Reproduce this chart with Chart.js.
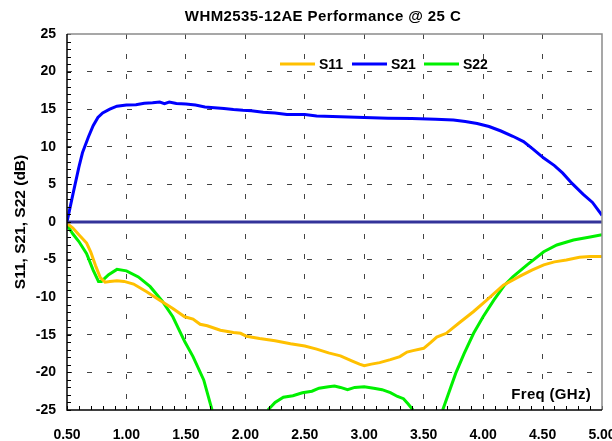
<!DOCTYPE html>
<html><head><meta charset="utf-8">
<script src="https://cdn.jsdelivr.net/npm/chart.js@4.4.1/dist/chart.umd.min.js"></script>
<style>html,body{margin:0;padding:0;background:#fff;} canvas{display:block;}</style>
</head><body>
<canvas id="c" width="612" height="441"></canvas>
<script>
const chartTitle = "WHM2535-12AE Performance @ 25 C";
const xAxisTitle = "Freq (GHz)";
const yAxisTitle = "S11, S21, S22 (dB)";
const seriesNames = ["S11", "S21", "S22"];
const seriesColors = ["#FFC000", "#0000FF", "#00F000"];

const s21Freq = [0.50,0.55,0.60,0.63,0.68,0.72,0.76,0.80,0.86,0.92,1.00,1.08,1.15,1.22,1.28,1.32,1.36,1.42,1.50,1.58,1.66,1.74,1.82,1.90,1.98,2.05,2.15,2.25,2.35,2.50,2.60,2.80,3.00,3.20,3.40,3.60,3.75,3.85,3.95,4.05,4.15,4.25,4.34,4.42,4.51,4.60,4.67,4.75,4.84,4.92,5.00];
const s21Values = [0.0,3.7,7.3,9.2,11.3,12.8,13.9,14.5,15.0,15.4,15.55,15.6,15.8,15.85,15.95,15.75,15.95,15.75,15.7,15.55,15.3,15.2,15.1,14.95,14.85,14.8,14.6,14.5,14.3,14.3,14.1,14.0,13.9,13.8,13.75,13.65,13.55,13.35,13.1,12.7,12.1,11.4,10.7,9.7,8.5,7.5,6.5,5.1,3.7,2.6,0.9];

const s11Freq = [0.50,0.55,0.60,0.665,0.70,0.74,0.78,0.82,0.86,0.92,0.98,1.06,1.17,1.28,1.39,1.49,1.56,1.62,1.68,1.79,1.90,1.96,2.01,2.12,2.25,2.38,2.50,2.60,2.70,2.80,2.90,2.96,3.00,3.06,3.13,3.22,3.30,3.36,3.41,3.50,3.56,3.61,3.69,3.80,3.92,4.03,4.17,4.31,4.41,4.51,4.60,4.70,4.81,4.90,5.00];
const s11Values = [-0.2,-0.8,-1.7,-2.8,-4.0,-5.8,-7.4,-8.0,-7.9,-7.8,-7.9,-8.25,-9.27,-10.4,-11.5,-12.6,-12.9,-13.6,-13.8,-14.4,-14.7,-14.8,-15.2,-15.5,-15.8,-16.2,-16.5,-16.9,-17.4,-17.8,-18.5,-18.9,-19.1,-18.9,-18.7,-18.3,-17.9,-17.3,-17.1,-16.8,-16.0,-15.3,-14.8,-13.4,-11.9,-10.4,-8.4,-7.2,-6.4,-5.7,-5.3,-5.05,-4.7,-4.6,-4.6];

const s22Freq = [0.50,0.55,0.60,0.665,0.72,0.765,0.79,0.85,0.92,1.00,1.10,1.20,1.30,1.39,1.49,1.56,1.65,1.72,1.95,2.19,2.25,2.32,2.40,2.48,2.56,2.62,2.70,2.75,2.80,2.86,2.92,3.00,3.08,3.15,3.22,3.28,3.33,3.37,3.41,3.55,3.66,3.77,3.84,3.92,4.00,4.09,4.18,4.25,4.37,4.51,4.62,4.76,4.90,5.00];
const s22Values = [-0.4,-1.6,-2.6,-4.2,-6.4,-7.9,-7.9,-7.0,-6.3,-6.5,-7.3,-8.6,-10.5,-12.6,-15.9,-17.9,-21.0,-25,null,-25,-24.0,-23.3,-23.1,-22.7,-22.5,-22.1,-21.9,-21.8,-22.0,-22.3,-22.0,-21.9,-22.1,-22.3,-22.7,-23.2,-23.5,-24.2,-25,null,-25,-20.1,-17.5,-14.8,-12.6,-10.4,-8.4,-7.3,-5.7,-3.95,-3.06,-2.4,-2.0,-1.7];

const zeroFreq = [0.50, 5.00];
const zeroValues = [0, 0];

const xTickValues = [0.5,1.0,1.5,2.0,2.5,3.0,3.5,4.0,4.5,5.0];
const yTickValues = [-25,-20,-15,-10,-5,0,5,10,15,20,25];
const xMinorStep = 0.1;
const yMinorStep = 1;

const FONT = "'Liberation Sans', Arial, sans-serif";
const zip = (xs, ys) => xs.map((x, i) => ({x: x, y: ys[i]}));

const overlayPlugin = {
  id: 'overlay',
  afterDraw(chart) {
    const ctx = chart.ctx;
    const a = chart.chartArea;
    const xs = chart.scales.x, ys = chart.scales.y;
    ctx.save();
    // minor ticks
    ctx.strokeStyle = '#000';
    ctx.lineWidth = 1;
    ctx.beginPath();
    for (let v = ys.min; v <= ys.max + 1e-9; v += yMinorStep) {
      const py = Math.round(ys.getPixelForValue(v)) + 0.5;
      ctx.moveTo(a.left, py); ctx.lineTo(a.left + 4, py);
    }
    for (let i = 0; ; i++) {
      const v = xs.min + i * xMinorStep;
      if (v > xs.max + 1e-9) break;
      const px = Math.round(xs.getPixelForValue(v)) + 0.5;
      ctx.moveTo(px, a.bottom); ctx.lineTo(px, a.bottom - 4);
    }
    ctx.stroke();
    // frame
    ctx.strokeStyle = '#8a8a8a';
    ctx.lineWidth = 1.5;
    ctx.beginPath();
    ctx.moveTo(a.left, a.top); ctx.lineTo(a.right, a.top); ctx.lineTo(a.right, a.bottom);
    ctx.stroke();
    ctx.strokeStyle = '#000';
    ctx.beginPath();
    ctx.moveTo(a.left, a.top); ctx.lineTo(a.left, a.bottom); ctx.lineTo(a.right, a.bottom);
    ctx.stroke();
    // title
    ctx.fillStyle = '#000';
    ctx.font = "bold 15px " + FONT;
    ctx.letterSpacing = '0.4px';
    ctx.textAlign = 'center';
    ctx.textBaseline = 'middle';
    ctx.fillText(chartTitle, 323, 17);
    // x axis title inside plot
    ctx.font = "bold 15px " + FONT;
    ctx.letterSpacing = '0.3px';
    ctx.textAlign = 'right';
    ctx.fillText(xAxisTitle, a.right - 11, a.bottom - 15);
    ctx.letterSpacing = '0px';
    // legend
    const legX = [280, 352, 424];
    const legY = 64;
    ctx.textAlign = 'left';
    ctx.font = "bold 14px " + FONT;
    seriesNames.forEach((n, i) => {
      ctx.strokeStyle = seriesColors[i];
      ctx.lineWidth = 3;
      ctx.beginPath();
      ctx.moveTo(legX[i], legY); ctx.lineTo(legX[i] + 35, legY);
      ctx.stroke();
      ctx.fillStyle = '#000';
      ctx.fillText(n, legX[i] + 39, legY + 1);
    });
    ctx.restore();
  }
};

const lineDs = (label, data, color, width) => ({
  label: label, data: data, borderColor: color, backgroundColor: color,
  borderWidth: width, pointRadius: 0, tension: 0, spanGaps: false, fill: false
});

new Chart(document.getElementById('c'), {
  type: 'line',
  data: {
    datasets: [
      lineDs('zero', zip(zeroFreq, zeroValues), '#333399', 3),
      lineDs(seriesNames[0], zip(s11Freq, s11Values), seriesColors[0], 3),
      lineDs(seriesNames[2], zip(s22Freq, s22Values), seriesColors[2], 3),
      lineDs(seriesNames[1], zip(s21Freq, s21Values), seriesColors[1], 3)
    ]
  },
  options: {
    responsive: false,
    animation: false,
    devicePixelRatio: 1,
    layout: { padding: { top: 34, right: 10, left: 0, bottom: 0 } },
    plugins: { legend: { display: false }, title: { display: false }, tooltip: { enabled: false } },
    scales: {
      x: {
        type: 'linear', min: 0.5, max: 5.0,
        afterFit: s => { s.height = 31; s.paddingLeft = 0; s.paddingRight = 0; },
        afterBuildTicks: s => { s.ticks = xTickValues.map(v => ({value: v})); },
        grid: {
          drawTicks: false,
          color: c => (c.tick && (c.tick.value === 0.5 || c.tick.value === 5)) ? 'rgba(0,0,0,0)' : '#444',
          lineWidth: 1
        },
        border: { display: false, dash: [5, 15] },
        ticks: {
          padding: 17, color: '#000', maxRotation: 0, autoSkip: false,
          font: { family: FONT, size: 14, weight: 'bold' },
          callback: v => Number(v).toFixed(2)
        }
      },
      y: {
        min: -25, max: 25,
        afterFit: s => { s.width = 67; s.paddingTop = 0; s.paddingBottom = 0; },
        afterBuildTicks: s => { s.ticks = yTickValues.map(v => ({value: v})); },
        grid: {
          drawTicks: false,
          color: c => (c.tick && (c.tick.value === -25 || c.tick.value === 25)) ? 'rgba(0,0,0,0)' : '#444',
          lineWidth: 1
        },
        border: { display: false, dash: [5, 15] },
        ticks: {
          padding: 11, color: '#000', autoSkip: false,
          font: { family: FONT, size: 14, weight: 'bold' }
        },
        title: {
          display: true, text: yAxisTitle, color: '#000',
          font: { family: FONT, size: 15.5, weight: 'bold' },
          padding: { top: 11, bottom: 0 }
        }
      }
    }
  },
  plugins: [overlayPlugin]
});
</script>
</body></html>
